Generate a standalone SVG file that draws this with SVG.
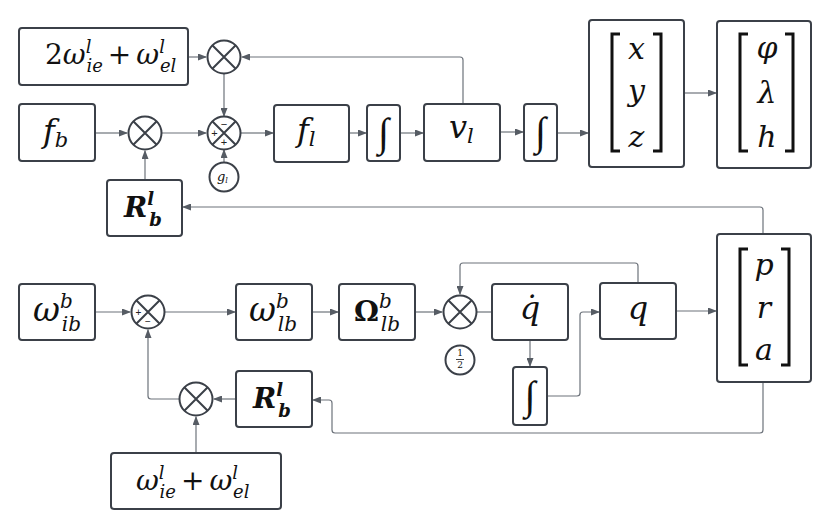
<svg xmlns="http://www.w3.org/2000/svg" width="830" height="528" viewBox="0 0 830 528">
<defs>
<marker id="ar" markerWidth="9" markerHeight="7" refX="8" refY="3.5" orient="auto" markerUnits="userSpaceOnUse">
<path d="M0,0 L9,3.5 L0,7 z" fill="#565c64"/>
</marker>
<style>
.box{fill:#fff;stroke:#3b4048;stroke-width:2}
.cir{fill:#fff;stroke:#3b4048;stroke-width:2}
.x{stroke:#3b4048;stroke-width:2}
.c{fill:none;stroke:#6d737b;stroke-width:1.2}
.a{marker-end:url(#ar)}
.m{font-family:'DejaVu Serif',serif;font-style:italic;fill:#111}
.u{font-family:'DejaVu Serif',serif;font-style:normal;fill:#111}
.i{font-family:'Liberation Serif',serif;font-style:italic;fill:#111}
.br{fill:none;stroke:#111;stroke-width:3}
.s{font-family:'Liberation Sans',Arial,sans-serif;fill:#222}
</style>
</defs>
<rect width="830" height="528" fill="#fff"/>

<g id="connectors">
<path class="c a" d="M188,57 H206"/>
<path class="c a" d="M463,103 V60 Q463,57 460,57 H242"/>
<path class="c a" d="M224,73 V116"/>
<path class="c a" d="M95,133 H127"/>
<path class="c a" d="M162,133 H206"/>
<path class="c a" d="M145,180 V151"/>
<path class="c a" d="M224,162 V150"/>
<path class="c a" d="M241,133 H273"/>
<path class="c a" d="M349,133 H366"/>
<path class="c a" d="M400,133 H423"/>
<path class="c a" d="M500,132 H523"/>
<path class="c a" d="M557,133 H588"/>
<path class="c a" d="M684,93 H716"/>
<path class="c a" d="M763,233 V210 Q763,207 760,207 H183"/>
<path class="c a" d="M95,312 H130"/>
<path class="c a" d="M165,312 H235"/>
<path class="c a" d="M312,312 H338"/>
<path class="c a" d="M415,312 H442"/>
<path class="c" d="M477,312 H492"/>
<path class="c a" d="M638,283 V266 Q638,263 635,263 H463 Q460,263 460,266 V294"/>
<path class="c a" d="M530,340 V366"/>
<path class="c a" d="M547,396 H577 Q580,396 580,393 V315 Q580,312 583,312 H599"/>
<path class="c a" d="M676,311 H716"/>
<path class="c a" d="M763,383 V430 Q763,433 760,433 H335 Q332,433 332,430 V403 Q332,400 329,400 H313"/>
<path class="c a" d="M236,399 H214"/>
<path class="c a" d="M179,399 H151 Q148,399 148,396 V330"/>
<path class="c a" d="M196,453 V417"/>
</g>

<g id="n_2w">
<rect class="box" x="19" y="28" width="169" height="57" rx="3"/>
<text class="m" x="45" y="64" font-size="28"><tspan class="u">2</tspan>ω<tspan font-size="18" dy="-11">l</tspan><tspan font-size="18" dx="-5" dy="19">ie</tspan><tspan class="u" dx="5" dy="-8">+</tspan><tspan dx="5">ω</tspan><tspan font-size="18" dy="-11">l</tspan><tspan font-size="18" dx="-5" dy="19">el</tspan></text>
</g>

<g id="n_mul1">
<circle class="cir" cx="224" cy="57" r="16.5"/>
<path class="x" d="M212.3,45.3 L235.7,68.7 M235.7,45.3 L212.3,68.7"/>
</g>

<g id="n_fb">
<rect class="box" x="19" y="104" width="76" height="57" rx="3"/>
<text class="m" x="43" y="142" font-size="32">f<tspan font-size="21" dy="5">b</tspan></text>
</g>

<g id="n_mul2">
<circle class="cir" cx="145" cy="133" r="16.5"/>
<path class="x" d="M133.3,121.3 L156.7,144.7 M156.7,121.3 L133.3,144.7"/>
</g>

<g id="n_sum1">
<circle class="cir" cx="224" cy="133" r="16.5"/>
<path class="x" d="M212.3,121.3 L235.7,144.7 M235.7,121.3 L212.3,144.7"/>
<text class="s" x="224" y="128" font-size="11" text-anchor="middle">−</text>
<text class="s" x="214.5" y="137" font-size="11" text-anchor="middle">+</text>
<text class="s" x="224" y="146" font-size="11" text-anchor="middle">+</text>
</g>

<g id="n_gl">
<circle class="cir" cx="224" cy="177" r="14.5"/>
<text class="m" x="217" y="181" font-size="13">g<tspan font-size="8" dy="2">l</tspan></text>
</g>

<g id="n_Rb1">
<rect class="box" x="107" y="180" width="75" height="56" rx="3"/>
<text class="m" x="124" y="217" font-size="28" font-weight="bold">R<tspan font-size="18" dy="-12">l</tspan><tspan font-size="18" dx="-5" dy="21">b</tspan></text>
</g>

<g id="n_fl">
<rect class="box" x="274" y="105" width="75" height="57" rx="3"/>
<text class="m" x="297" y="141" font-size="32">f<tspan font-size="21" dy="5">l</tspan></text>
</g>

<g id="n_int1">
<rect class="box" x="367" y="105" width="33" height="56" rx="3"/>
<text class="i" x="383.5" y="146" font-size="40" text-anchor="middle">∫</text>
</g>

<g id="n_vl">
<rect class="box" x="424" y="104" width="76" height="57" rx="3"/>
<text class="m" x="449" y="138" font-size="32">v<tspan font-size="21" dy="5">l</tspan></text>
</g>

<g id="n_int2">
<rect class="box" x="524" y="104" width="33" height="57" rx="3"/>
<text class="i" x="540.5" y="145" font-size="40" text-anchor="middle">∫</text>
</g>

<g id="n_xyz">
<rect class="box" x="589" y="20" width="95" height="147" rx="3"/>
<path class="br" d="M620,34 H612 V151 H620 M653,34 H661 V151 H653"/>
<text class="m" x="636.5" y="59" font-size="30" text-anchor="middle">x</text>
<text class="m" x="636.5" y="101" font-size="30" text-anchor="middle">y</text>
<text class="m" x="636.5" y="147" font-size="30" text-anchor="middle">z</text>
</g>

<g id="n_plh">
<rect class="box" x="717" y="21" width="94" height="147" rx="3"/>
<path class="br" d="M748,34 H740 V151 H748 M785,34 H793 V151 H785"/>
<text class="m" x="767" y="58" font-size="30" text-anchor="middle">φ</text>
<text class="m" x="767" y="103" font-size="30" text-anchor="middle">λ</text>
<text class="m" x="767" y="147" font-size="30" text-anchor="middle">h</text>
</g>

<g id="n_wib">
<rect class="box" x="19" y="284" width="76" height="56" rx="3"/>
<text class="m" x="33" y="321" font-size="33">ω<tspan font-size="20" dy="-13">b</tspan><tspan font-size="20" dx="-11" dy="23">ib</tspan></text>
</g>

<g id="n_sum2">
<circle class="cir" cx="148" cy="312" r="16.5"/>
<path class="x" d="M136.3,300.3 L159.7,323.7 M159.7,300.3 L136.3,323.7"/>
<text class="s" x="138.5" y="316" font-size="10" text-anchor="middle">+</text>
<text class="s" x="148" y="325" font-size="10" text-anchor="middle">−</text>
</g>

<g id="n_wlb">
<rect class="box" x="236" y="284" width="76" height="56" rx="3"/>
<text class="m" x="249" y="321" font-size="33">ω<tspan font-size="20" dy="-13">b</tspan><tspan font-size="20" dx="-11" dy="23">lb</tspan></text>
</g>

<g id="n_Olb">
<rect class="box" x="339" y="284" width="76" height="56" rx="3"/>
<text class="u" x="354" y="321" font-size="28" font-weight="bold">Ω<tspan class="m" font-weight="normal" font-size="20" dy="-13">b</tspan><tspan class="m" font-weight="normal" font-size="20" dx="-11" dy="23">lb</tspan></text>
</g>

<g id="n_mul3">
<circle class="cir" cx="460" cy="312" r="16.5"/>
<path class="x" d="M448.3,300.3 L471.7,323.7 M471.7,300.3 L448.3,323.7"/>
</g>

<g id="n_half">
<circle class="cir" cx="460" cy="360" r="14.5"/>
<text class="u" x="460" y="356" font-size="9" text-anchor="middle">1</text>
<path d="M456,359.5 H464" stroke="#111" stroke-width="0.8"/>
<text class="u" x="460" y="368" font-size="9" text-anchor="middle">2</text>
</g>

<g id="n_qdot">
<rect class="box" x="492" y="284" width="76" height="56" rx="3"/>
<text class="m" x="530" y="319" font-size="32" text-anchor="middle">q̇</text>
</g>

<g id="n_int3">
<rect class="box" x="513" y="367" width="34" height="58" rx="3"/>
<text class="i" x="530" y="409" font-size="40" text-anchor="middle">∫</text>
</g>

<g id="n_q">
<rect class="box" x="600" y="283" width="76" height="56" rx="3"/>
<text class="m" x="638" y="319" font-size="32" text-anchor="middle">q</text>
</g>

<g id="n_pra">
<rect class="box" x="717" y="234" width="94" height="148" rx="3"/>
<path class="br" d="M748,249 H740 V365 H748 M781,249 H789 V365 H781"/>
<text class="m" x="764" y="275" font-size="30" text-anchor="middle">p</text>
<text class="m" x="764" y="318" font-size="30" text-anchor="middle">r</text>
<text class="m" x="764" y="360" font-size="30" text-anchor="middle">a</text>
</g>

<g id="n_mul4">
<circle class="cir" cx="196" cy="399" r="16.5"/>
<path class="x" d="M184.3,387.3 L207.7,410.7 M207.7,387.3 L184.3,410.7"/>
</g>

<g id="n_Rb2">
<rect class="box" x="236" y="371" width="76" height="56" rx="3"/>
<text class="m" x="253" y="408" font-size="28" font-weight="bold">R<tspan font-size="18" dy="-12">l</tspan><tspan font-size="18" dx="-5" dy="21">b</tspan></text>
</g>

<g id="n_wsum">
<rect class="box" x="111" y="453" width="170" height="56" rx="3"/>
<text class="m" x="136" y="490" font-size="28">ω<tspan font-size="18" dy="-11">l</tspan><tspan font-size="18" dx="-5" dy="19">ie</tspan><tspan class="u" dx="5" dy="-8">+</tspan><tspan dx="5">ω</tspan><tspan font-size="18" dy="-11">l</tspan><tspan font-size="18" dx="-5" dy="19">el</tspan></text>
</g>
</svg>
